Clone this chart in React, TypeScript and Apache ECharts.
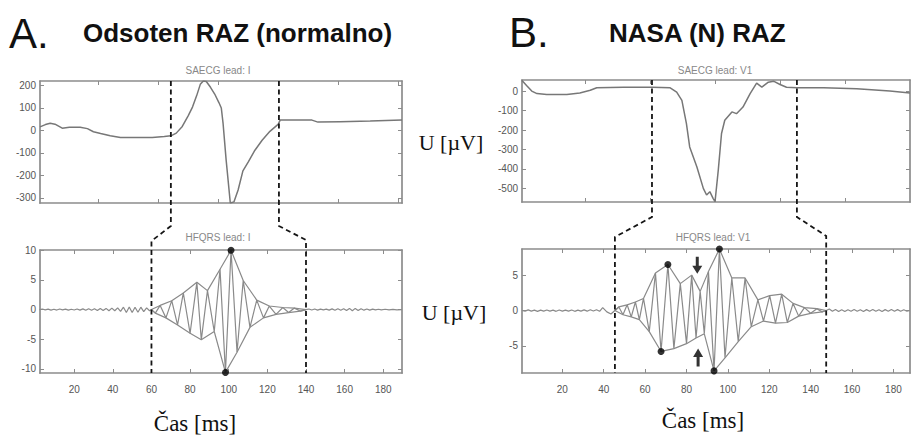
import React, { useEffect, useRef } from 'react';
import * as echarts from 'echarts';

// ---------- data ----------
// Panel A, top: SAECG lead I (sample units, µV)
const aTopRangeX = [3, 606];
const aTopRangeY = [-323, 220];
const aTopTicksX = [100, 200, 300, 400, 500, 600];
const aTopTicksY = [200, 100, 0, -100, -200, -300];
const aTop: number[][] = [
  [3, 16], [12, 26], [20, 32], [28, 28], [40, 10], [52, 14], [70, 14], [82, 8], [92, -6], [104, -14],
  [120, -24], [137, -31], [155, -32], [190, -32], [210, -27], [221, -24], [230, -12], [240, 18], [250, 66],
  [257, 104], [264, 155], [270, 205], [275, 220], [280, 218], [287, 192], [294, 162], [301, 124], [305, 100],
  [308, 30], [313, -130], [320, -323], [326, -318], [333, -265], [341, -180], [350, -140], [361, -88],
  [373, -44], [386, -4], [400, 28], [403, 46], [456, 46], [466, 37], [503, 39], [553, 42], [606, 46],
];
const aTopWindow = [221, 401];

// Panel A, bottom: HFQRS lead I (ms, µV)
const aBotRangeX = [2.3, 189.7];
const aBotRangeY = [-10.7, 10.05];
const aBotTicksX = [20, 40, 60, 80, 100, 120, 140, 160, 180];
const aBotTicksY = [10, 5, 0, -5, -10];
const aHf: number[][] = [
  [2, 0], [3.5, 0.1], [5, -0.05], [6.5, 0.08], [8, -0.1], [9.5, 0.05], [11, -0.08], [12.5, 0.1], [14, -0.05],
  [15.5, 0.08], [17, -0.1], [18.5, 0.06], [20, -0.08], [21.5, 0.1], [23, -0.1], [24.5, 0.12], [26, -0.12],
  [27.5, 0.15], [29, -0.1], [30.5, 0.15], [32, -0.15], [33.5, 0.2], [35, -0.15], [36.5, 0.2], [38, -0.2],
  [39.5, 0.25], [41, -0.2], [42.5, 0.3], [44, -0.3], [45.5, 0.4], [47, -0.5], [48.5, 0.45], [50, -0.5],
  [51.5, 0.4], [53, -0.45], [54.5, 0.4], [56, -0.35], [57.5, 0.3], [59, -0.2],
  [60, 0], [62, -0.6], [64.5, 0.7], [67.5, -1.4], [70.5, 1.5], [73.5, -2.6], [76.5, 2.8], [80, -4.0],
  [83.5, 4.6], [85.8, -5.1], [89, 3.2], [92.5, -3.7], [95.5, 6.8], [98.3, -10.6], [101.2, 10], [104.3, -7.2],
  [107.5, 4.9], [111, -3.0], [114.5, 1.6], [118, -1.4], [121, 0.6], [124.5, -0.8], [128, 0.35], [131, -0.5],
  [134, 0.25], [137, -0.25], [140, 0],
  [141.5, 0.1], [143, -0.08], [144.5, 0.1], [146, -0.1], [147.5, 0.08], [149, -0.06], [150.5, 0.08],
  [152, -0.1], [153.5, 0.12], [155, -0.12], [156.5, 0.15], [158, -0.1], [159.5, 0.15], [161, -0.15],
  [162.5, 0.2], [164, -0.2], [165.5, 0.2], [167, -0.15], [168.5, 0.15], [170, -0.1], [171.5, 0.1],
  [173, -0.1], [174.5, 0.08], [176, -0.06], [177.5, 0.05], [179, -0.06], [181, 0.05], [183, -0.05],
  [185, 0.04], [187, -0.04], [189.7, 0],
];
const aWindow = [60, 140];
const aDots: number[][] = [[101.2, 10], [98.3, -10.6]];

// Panel B, top: SAECG lead V1
const bTopRangeX = [2, 599];
const bTopRangeY = [-570, 57];
const bTopTicksX = [100, 200, 300, 400, 500];
const bTopTicksY = [0, -100, -200, -300, -400, -500];
const bTop: number[][] = [
  [2, 55], [9, 29], [17, 0], [25, -13], [40, -18], [71, -18], [91, -10], [107, 4], [117, 17], [158, 20],
  [202, 20], [230, 17], [240, -5], [248, -48], [255, -167], [260, -287], [271, -389], [281, -500],
  [286, -534], [291, -517], [296, -551], [299, -568], [304, -406], [309, -218], [314, -150], [325, -107],
  [332, -116], [342, -82], [353, -13], [363, 41], [371, 20], [381, 46], [389, 51], [399, 34], [409, 20],
  [425, 17], [466, 17], [517, 12], [568, 0], [599, -10],
];
const bTopWindow = [202, 425];

// Panel B, bottom: HFQRS lead V1
const bBotRangeX = [0.5, 188];
const bBotRangeY = [-8.85, 8.7];
const bBotTicksX = [20, 40, 60, 80, 100, 120, 140, 160, 180];
const bBotTicksY = [5, 0, -5];
const bHf: number[][] = [
  [0.5, 0], [2, -0.1], [3.5, 0.08], [5, -0.1], [6.5, 0.05], [8, -0.12], [9.5, 0.05], [11, -0.1], [12.5, 0.06],
  [14, -0.1], [15.5, 0.05], [17, -0.12], [18.5, 0.06], [20, -0.1], [21.5, 0.05], [23, -0.1], [24.5, 0.06],
  [26, -0.12], [27.5, 0.05], [29, -0.1], [30.5, 0.08], [32, -0.1], [33.5, 0.1], [35, -0.08], [36.5, 0.1],
  [38, -0.12], [39.5, 0.4], [41.5, -0.2], [43.5, -0.5],
  [45.4, 0], [47.3, 0.5], [49.3, -0.6], [51.3, 0.8], [53.3, -0.9], [55.3, 1.2], [57.2, -1.3], [59.2, 1.7],
  [62, -3.0], [65, 5.3], [67.7, -5.8], [71, 6.5], [73.9, -5.4], [77, 3.8], [80, -4.7], [82.5, 5.0],
  [84.6, -3.9], [86.6, 2.7], [88.6, -3.3], [90.6, 5.5], [93.3, -8.55], [95.9, 8.7], [98.6, -6.7],
  [101.9, 4.6], [105, -4.4], [108.3, 4.6], [111.3, -2.3], [114.5, 1.5], [117.2, -1.5], [120.2, 2.1],
  [123, -1.8], [126, 2.3], [128.7, -1.7], [131.5, 1.0], [134.2, -0.8], [137, 0.4], [140, -0.4],
  [143, 0.25], [145.5, -0.2], [147.5, 0],
  [149, 0.2], [150.5, -0.1], [152, 0.15], [153.5, -0.15], [155, 0.1], [156.5, -0.15], [158, 0.1],
  [159.5, -0.1], [161, 0.15], [162.5, -0.1], [164, 0.1], [165.5, -0.15], [167, 0.12], [168.5, -0.1],
  [170, 0.15], [171.5, -0.12], [173, 0.1], [174.5, -0.15], [176, 0.12], [177.5, -0.1], [179, 0.15],
  [180.5, -0.1], [182, 0.12], [183.5, -0.1], [185, 0.1], [186.5, -0.1], [188, 0],
];
const bWindow = [45.4, 147.5];
const bDots: number[][] = [[71, 6.5], [67.7, -5.8], [95.9, 8.7], [93.3, -8.55]];
const bArrowDown: number[][] = [[85.2, 6.4]];
const bArrowUp: number[][] = [[85.6, -6.65]];

// ---------- styling / layout ----------
const FONT = "'Liberation Sans', Arial, sans-serif";
const SERIF = "'Liberation Serif', 'Times New Roman', serif";
const FRAME = '#8c8c8c';
const CURVE = '#777777';
const HF = '#8a8a8a';
const DASH = '#151515';

const grids = [
  { left: 40, top: 81, width: 362, height: 122 },
  { left: 40, top: 250, width: 362, height: 123 },
  { left: 522, top: 80, width: 388, height: 122 },
  { left: 522, top: 249, width: 388, height: 124 },
];

function envelope(data: number[][], win: number[], sign: number) {
  return data.filter(
    ([x, y]) => x >= win[0] && x <= win[1] && (x === win[0] || x === win[1] || sign * y > 0),
  );
}

function axes(gi: number, rx: number[], ry: number[], tx: number[], ty: number[], xLabels: boolean) {
  const line = { show: true, onZero: false, lineStyle: { color: FRAME, width: 1.7 } };
  const tick = (v: number[]) => ({
    show: true, inside: true, length: 4, customValues: v, lineStyle: { color: FRAME, width: 1 },
  });
  const label = { fontSize: 10, color: '#555', fontFamily: FONT };
  const x = (pos: string, show: boolean) => ({
    type: 'value', gridIndex: gi, position: pos, min: rx[0], max: rx[1],
    axisLine: line, axisTick: tick(tx), splitLine: { show: false },
    axisLabel: show ? { show: true, customValues: tx, margin: 11, ...label } : { show: false },
  });
  const y = (pos: string, show: boolean) => ({
    type: 'value', gridIndex: gi, position: pos, min: ry[0], max: ry[1],
    axisLine: line, axisTick: tick(ty), splitLine: { show: false },
    axisLabel: show ? { show: true, customValues: ty, margin: 4, ...label } : { show: false },
  });
  return { x: [x('bottom', xLabels), x('top', false)], y: [y('left', true), y('right', false)] };
}

function lineSeries(xi: number, data: number[][], color: string, width: number) {
  return {
    type: 'line', xAxisIndex: xi, yAxisIndex: xi, data, showSymbol: false, symbol: 'none',
    lineStyle: { color, width }, silent: true,
  };
}

function dotSeries(xi: number, data: number[][]) {
  return {
    type: 'scatter', xAxisIndex: xi, yAxisIndex: xi, data, symbolSize: 7, clip: false,
    itemStyle: { color: '#000' }, silent: true, z: 5,
  };
}

function buildOption() {
  const A0 = axes(0, aTopRangeX, aTopRangeY, aTopTicksX, aTopTicksY, false);
  const A1 = axes(1, aBotRangeX, aBotRangeY, aBotTicksX, aBotTicksY, true);
  const B0 = axes(2, bTopRangeX, bTopRangeY, bTopTicksX, bTopTicksY, false);
  const B1 = axes(3, bBotRangeX, bBotRangeY, bBotTicksX, bBotTicksY, true);
  const xAxis = [...A0.x, ...A1.x, ...B0.x, ...B1.x];
  const yAxis = [...A0.y, ...A1.y, ...B0.y, ...B1.y];
  return {
    animation: false,
    backgroundColor: '#ffffff',
    grid: grids.map((g) => ({ ...g, containLabel: false, outerBoundsMode: 'none' })),
    xAxis,
    yAxis,
    series: [
      lineSeries(0, aTop, CURVE, 1.5),
      lineSeries(2, aHf, HF, 1.2),
      lineSeries(2, envelope(aHf, aWindow, 1), HF, 1.2),
      lineSeries(2, envelope(aHf, aWindow, -1), HF, 1.2),
      dotSeries(2, aDots),
      lineSeries(4, bTop, CURVE, 1.5),
      lineSeries(6, bHf, HF, 1.2),
      lineSeries(6, envelope(bHf, bWindow, 1), HF, 1.2),
      lineSeries(6, envelope(bHf, bWindow, -1), HF, 1.2),
      dotSeries(6, bDots),
      {
        type: 'scatter', xAxisIndex: 6, yAxisIndex: 6, data: bArrowDown, clip: false, silent: true, z: 6,
        symbol: 'path://M3.5,0 L6.5,0 L6.5,9 L10,9 L5,17 L0,9 L3.5,9 Z', symbolSize: [10, 17],
        itemStyle: { color: '#000' },
      },
      {
        type: 'scatter', xAxisIndex: 6, yAxisIndex: 6, data: bArrowUp, clip: false, silent: true, z: 6,
        symbol: 'path://M5,0 L10,8 L6.5,8 L6.5,17 L3.5,17 L3.5,8 L0,8 Z', symbolSize: [10, 18],
        itemStyle: { color: '#000' },
      },
    ],
  };
}

function text(x: number, y: number, s: string, size: number, family: string, opts: any = {}) {
  return {
    type: 'text', x, y, z: 10, silent: true,
    style: {
      text: s, fontSize: size, fontFamily: family, fill: opts.fill || '#111',
      fontWeight: opts.weight || 'normal', align: opts.align || 'center', verticalAlign: 'middle',
    },
  };
}

export default function App() {
  const ref = useRef<HTMLDivElement>(null);
  useEffect(() => {
    const el = ref.current as HTMLDivElement;
    const chart = echarts.init(el, undefined, { renderer: 'svg' });
    chart.setOption(buildOption() as any);

    const px = (xi: number, v: number) => chart.convertToPixel({ xAxisIndex: xi } as any, v) as number;
    const dashStyle = { stroke: DASH, lineWidth: 1.8, lineDash: [5, 3.5], fill: null };
    const connector = (topXi: number, botXi: number, tv: number, bv: number, gTop: any, gBot: any, b0: number, b1: number) => {
      const tx = px(topXi, tv);
      const bx = px(botXi, bv);
      return {
        type: 'polyline', z: 8, silent: true,
        shape: { points: [[tx, gTop.top], [tx, b0], [bx, b1], [bx, gBot.top + gBot.height]] },
        style: dashStyle,
      };
    };

    const graphics: any[] = [
      text(9, 33.5, 'A.', 42, FONT, { align: 'left' }),
      text(83, 33, 'Odsoten RAZ (normalno)', 26, FONT, { align: 'left', weight: 'bold' }),
      text(509, 32.5, 'B.', 42, FONT, { align: 'left' }),
      text(609, 33, 'NASA (N) RAZ', 26, FONT, { align: 'left', weight: 'bold' }),
      text(218, 70, 'SAECG lead: I', 10, FONT, { fill: '#888' }),
      text(715, 70, 'SAECG lead: V1', 10, FONT, { fill: '#888' }),
      text(218, 237, 'HFQRS lead: I', 10, FONT, { fill: '#888' }),
      text(713, 237, 'HFQRS lead: V1', 10, FONT, { fill: '#888' }),
      text(451, 142, 'U [µV]', 22, SERIF),
      text(454, 312, 'U [µV]', 22, SERIF),
      text(195, 423, 'Čas [ms]', 23, SERIF),
      text(703, 420, 'Čas [ms]', 23, SERIF),
      connector(0, 2, aTopWindow[0], aWindow[0], grids[0], grids[1], 226, 241),
      connector(0, 2, aTopWindow[1], aWindow[1], grids[0], grids[1], 226, 240),
      connector(4, 6, bTopWindow[0], bWindow[0], grids[2], grids[3], 217, 237),
      connector(4, 6, bTopWindow[1], bWindow[1], grids[2], grids[3], 217, 236),
    ];
    chart.setOption({ graphic: graphics } as any);
    return () => chart.dispose();
  }, []);
  return (
    <div
      ref={ref}
      style={{ position: 'fixed', left: 0, top: 0, width: 911, height: 439, background: '#fff' }}
    />
  );
}
